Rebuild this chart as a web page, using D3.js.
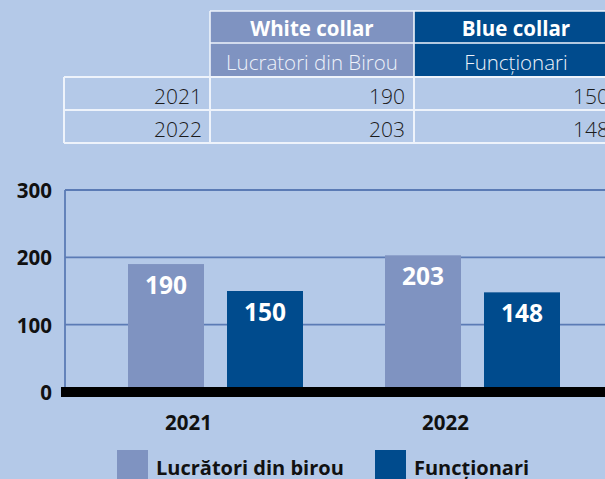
<!DOCTYPE html>
<html><head><meta charset="utf-8">
<script src="https://cdn.jsdelivr.net/npm/d3@7"></script>
<style>
html,body{margin:0;padding:0;background:#b4c9e8;}
svg{display:block;font-family:"Open Sans",sans-serif;}
</style></head><body>
<svg id="c" width="605" height="479"></svg>
<script>
const years = ["2021", "2022"];
const seriesKeys = ["white", "blue"];
const seriesHeaders = ["White collar", "Blue collar"];
const seriesSubHeaders = ["Lucratori din Birou", "Funcționari"];
const legendLabels = ["Lucrători din birou", "Funcționari"];
const whiteCollar = [190, 203];
const blueCollar = [150, 148];
const yTicks = [0, 100, 200, 300];

const colors = {white: "#7f93c1", blue: "#004b8d"};
const values = {white: whiteCollar, blue: blueCollar};

const svg = d3.select("#c");
const W = 605, H = 479;
svg.append("rect").attr("width", W).attr("height", H).attr("fill", "#b4c9e8");

// ---------- Table ----------
const tCols = d3.scaleOrdinal().domain(["label", ...seriesKeys]).range([64, 210, 414]);
const colW = {label: 146, white: 204, blue: 204};
const hdrY = [11, 43];
const rowY = d3.scaleBand().domain(years).range([77, 143]);
const tbl = svg.append("g");
const borderCol = "#eef3fb";

seriesKeys.forEach((k, i) => {
  const x = tCols(k);
  tbl.append("rect").attr("x", x).attr("y", hdrY[0]).attr("width", colW[k]).attr("height", 65)
    .attr("fill", colors[k]);
  tbl.append("text").attr("x", x + colW[k] / 2).attr("y", 36).attr("text-anchor", "middle")
    .attr("fill", "#fff").attr("font-weight", 700).attr("font-size", 20.5).text(seriesHeaders[i]);
  tbl.append("text").attr("x", x + colW[k] / 2).attr("y", 69.5).attr("text-anchor", "middle")
    .attr("fill", "#eef2fa").attr("font-weight", 300).attr("font-size", 20.5).text(seriesSubHeaders[i]);
});
tbl.append("path").attr("fill", "none").attr("stroke", borderCol).attr("stroke-width", 1.6)
  .attr("d", `M210,${hdrY[0]}H620M210,${hdrY[0]}V76M414,${hdrY[0]}V76M210,${hdrY[1]}H620`);

years.forEach((y, j) => {
  const ry = rowY(y);
  tbl.append("text").attr("x", tCols("label") + colW.label - 8).attr("y", ry + 26.5)
    .attr("text-anchor", "end").attr("fill", "#1b1b1b").attr("font-weight", 300).attr("font-size", 21).text(y);
  seriesKeys.forEach(k => {
    tbl.append("text").attr("x", tCols(k) + colW[k] - 9).attr("y", ry + 26.5)
      .attr("text-anchor", "end").attr("fill", "#1b1b1b").attr("font-weight", 300).attr("font-size", 21)
      .text(values[k][j]);
  });
});
const db = [];
[77, 110, 143].forEach(v => db.push(`M64,${v}H620`));
[64, 210, 414].forEach(v => db.push(`M${v},77V143`));
tbl.append("path").attr("fill", "none").attr("stroke", borderCol).attr("stroke-width", 2).attr("d", db.join(""));

// ---------- Chart ----------
const y = d3.scaleLinear().domain([0, 300]).range([392, 190]);
const x0 = d3.scaleBand().domain(years).range([87, 601]).padding(0);
const x1 = d3.scaleBand().domain(seriesKeys).range([41, 216]).paddingInner(0.2323).paddingOuter(0);

const grid = svg.append("g");
grid.selectAll("line").data(yTicks.filter(t => t > 0)).join("line")
  .attr("x1", 65).attr("x2", W).attr("y1", d => y(d)).attr("y2", d => y(d))
  .attr("stroke", "#5b7bb5").attr("stroke-width", 1.8);
grid.append("line").attr("x1", 65).attr("x2", 65).attr("y1", y(300)).attr("y2", y(0))
  .attr("stroke", "#5b7bb5").attr("stroke-width", 1.8);

const yAxis = d3.axisLeft(y).tickValues(yTicks).tickSize(0).tickPadding(0);
const ya = svg.append("g").attr("transform", "translate(52,0)").call(yAxis);
ya.select(".domain").remove();
ya.selectAll("text").attr("font-family", "Open Sans").attr("font-size", 20.5).attr("font-weight", 700)
  .attr("fill", "#111").attr("dy", "0.36em");

const groups = svg.append("g").selectAll("g").data(years).join("g")
  .attr("transform", d => `translate(${x0(d)},0)`);
groups.selectAll("rect").data((d, j) => seriesKeys.map(k => ({k, v: values[k][j]}))).join("rect")
  .attr("x", d => x1(d.k)).attr("width", x1.bandwidth())
  .attr("y", d => y(d.v)).attr("height", d => y(0) - y(d.v)).attr("fill", d => colors[d.k]);
groups.selectAll("text.v").data((d, j) => seriesKeys.map(k => ({k, v: values[k][j]}))).join("text")
  .attr("class", "v").attr("x", d => x1(d.k) + x1.bandwidth() / 2).attr("y", d => y(d.v) + 30)
  .attr("text-anchor", "middle").attr("fill", "#fff").attr("font-weight", 700).attr("font-size", 24.5)
  .text(d => d.v);

svg.append("rect").attr("x", 61).attr("y", y(0) - 5).attr("width", W - 61).attr("height", 10).attr("fill", "#000");

const xa = d3.axisBottom(x0).tickSize(0).tickPadding(0);
const xag = svg.append("g").attr("transform", "translate(-27,430)").call(xa);
xag.select(".domain").remove();
xag.selectAll("text").attr("font-family", "Open Sans").attr("font-size", 20.5).attr("font-weight", 700)
  .attr("fill", "#111").attr("dy", 0);

const legX = [117, 375];
const lg = svg.append("g").selectAll("g").data(seriesKeys).join("g")
  .attr("transform", (d, i) => `translate(${legX[i]},450)`);
lg.append("rect").attr("width", 31).attr("height", 31).attr("fill", d => colors[d]);
lg.append("text").attr("x", 39).attr("y", 24.5).attr("font-size", 20).attr("font-weight", 700)
  .attr("fill", "#111").text((d, i) => legendLabels[i]);
</script>
</body></html>
